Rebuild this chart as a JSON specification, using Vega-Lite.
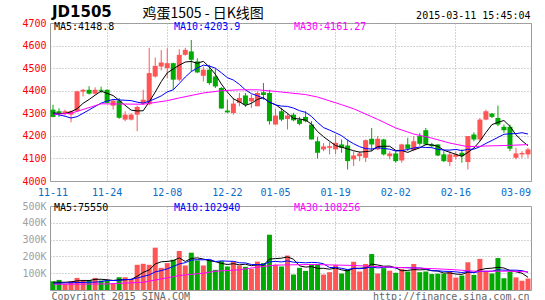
{
"$schema": "https://vega.github.io/schema/vega-lite/v6.json",
"autosize": {"type": "pad"},
"padding": {"left": 21, "top": 4, "right": 0, "bottom": 0},
"background": "white",
"bounds": "flush",
"spacing": 25,
"config": {
 "view": {"stroke": "#999999", "strokeWidth": 1},
 "axis": {"labelFont": "DejaVu Sans Mono", "titleFont": "DejaVu Sans Mono", "titleFontWeight": "normal", "domain": false, "ticks": false, "gridColor": "#AAAAAA", "gridDash": [1, 2], "gridWidth": 1, "labelOverlap": false}
},
"datasets": {
 "k": [
{"d":"2014-11-11","o":4316,"h":4338,"l":4282,"c":4284,"v":52000,"ma5":4302,"ma10":4299,"vma5":46000,"vma10":40000},
{"d":"2014-11-12","o":4309,"h":4322,"l":4284,"c":4301,"v":60000,"ma5":4299,"ma10":4293,"vma5":46000,"vma10":41000},
{"d":"2014-11-13","o":4299,"h":4316,"l":4290,"c":4309,"v":36000,"ma5":4299,"ma10":4287,"vma5":46000,"vma10":42000},
{"d":"2014-11-14","o":4294,"h":4312,"l":4260,"c":4309,"v":52000,"ma5":4307,"ma10":4279,"vma5":48000,"vma10":43000},
{"d":"2014-11-17","o":4309,"h":4400,"l":4305,"c":4397,"v":72000,"ma5":4320,"ma10":4285,"vma5":54400,"vma10":44000},
{"d":"2014-11-18","o":4396,"h":4408,"l":4375,"c":4404,"v":60000,"ma5":4344,"ma10":4300,"vma5":56000,"vma10":45000},
{"d":"2014-11-19","o":4404,"h":4420,"l":4383,"c":4387,"v":60000,"ma5":4361.2,"ma10":4315,"vma5":56000,"vma10":46000},
{"d":"2014-11-20","o":4387,"h":4415,"l":4383,"c":4404,"v":72000,"ma5":4380.2,"ma10":4330,"vma5":63200,"vma10":47000},
{"d":"2014-11-21","o":4404,"h":4418,"l":4390,"c":4400,"v":56000,"ma5":4398.4,"ma10":4345,"vma5":64000,"vma10":50000},
{"d":"2014-11-24","o":4404,"h":4406,"l":4344,"c":4346,"v":56000,"ma5":4388.2,"ma10":4354.1,"vma5":60800,"vma10":57600},
{"d":"2014-11-25","o":4334,"h":4361,"l":4316,"c":4356,"v":40000,"ma5":4378.6,"ma10":4361.3,"vma5":56800,"vma10":56400},
{"d":"2014-11-26","o":4356,"h":4368,"l":4276,"c":4280,"v":76000,"ma5":4357.2,"ma10":4359.2,"vma5":60000,"vma10":58000},
{"d":"2014-11-27","o":4272,"h":4309,"l":4265,"c":4294,"v":76000,"ma5":4335.2,"ma10":4357.7,"vma5":60800,"vma10":62000},
{"d":"2014-11-28","o":4272,"h":4300,"l":4268,"c":4294,"v":66000,"ma5":4314,"ma10":4356.2,"vma5":62800,"vma10":63400},
{"d":"2014-12-01","o":4294,"h":4334,"l":4221,"c":4328,"v":150000,"ma5":4310.4,"ma10":4349.3,"vma5":81600,"vma10":71200},
{"d":"2014-12-02","o":4343,"h":4404,"l":4338,"c":4360,"v":156000,"ma5":4311.2,"ma10":4344.9,"vma5":104800,"vma10":80800},
{"d":"2014-12-03","o":4340,"h":4590,"l":4335,"c":4478,"v":150000,"ma5":4350.8,"ma10":4354,"vma5":119600,"vma10":89800},
{"d":"2014-12-04","o":4463,"h":4547,"l":4458,"c":4510,"v":252000,"ma5":4394,"ma10":4364.6,"vma5":154800,"vma10":107800},
{"d":"2014-12-05","o":4507,"h":4580,"l":4490,"c":4525,"v":132000,"ma5":4440.2,"ma10":4377.1,"vma5":168000,"vma10":115400},
{"d":"2014-12-08","o":4500,"h":4588,"l":4456,"c":4522,"v":160000,"ma5":4479,"ma10":4394.7,"vma5":170000,"vma10":125800},
{"d":"2014-12-09","o":4522,"h":4524,"l":4404,"c":4449,"v":180000,"ma5":4496.8,"ma10":4404,"vma5":174800,"vma10":139800},
{"d":"2014-12-10","o":4449,"h":4584,"l":4441,"c":4559,"v":232000,"ma5":4513,"ma10":4431.9,"vma5":191200,"vma10":155400},
{"d":"2014-12-11","o":4559,"h":4590,"l":4555,"c":4581,"v":146000,"ma5":4527.2,"ma10":4460.6,"vma5":170000,"vma10":162400},
{"d":"2014-12-12","o":4574,"h":4625,"l":4485,"c":4537,"v":222000,"ma5":4529.6,"ma10":4484.9,"vma5":188000,"vma10":178000},
{"d":"2014-12-15","o":4530,"h":4544,"l":4478,"c":4481,"v":176000,"ma5":4521.4,"ma10":4500.2,"vma5":191200,"vma10":180600},
{"d":"2014-12-16","o":4466,"h":4507,"l":4441,"c":4493,"v":146000,"ma5":4530.2,"ma10":4513.5,"vma5":184400,"vma10":179600},
{"d":"2014-12-17","o":4493,"h":4515,"l":4426,"c":4434,"v":180000,"ma5":4505.2,"ma10":4509.1,"vma5":174000,"vma10":182600},
{"d":"2014-12-18","o":4463,"h":4500,"l":4412,"c":4419,"v":120000,"ma5":4472.8,"ma10":4500,"vma5":168800,"vma10":169400},
{"d":"2014-12-19","o":4412,"h":4416,"l":4321,"c":4321,"v":172000,"ma5":4429.6,"ma10":4479.6,"vma5":158800,"vma10":173400},
{"d":"2014-12-22","o":4312,"h":4360,"l":4301,"c":4304,"v":140000,"ma5":4394.2,"ma10":4457.8,"vma5":151600,"vma10":171400},
{"d":"2014-12-23","o":4301,"h":4368,"l":4294,"c":4343,"v":172000,"ma5":4364.2,"ma10":4447.2,"vma5":156800,"vma10":170600},
{"d":"2014-12-24","o":4346,"h":4390,"l":4331,"c":4368,"v":146000,"ma5":4351,"ma10":4428.1,"vma5":150000,"vma10":162000},
{"d":"2014-12-25","o":4379,"h":4390,"l":4328,"c":4338,"v":138000,"ma5":4334.8,"ma10":4403.8,"vma5":153600,"vma10":161200},
{"d":"2014-12-26","o":4353,"h":4383,"l":4324,"c":4368,"v":126000,"ma5":4344.2,"ma10":4386.9,"vma5":144400,"vma10":151600},
{"d":"2014-12-29","o":4331,"h":4397,"l":4331,"c":4390,"v":169000,"ma5":4361.4,"ma10":4377.8,"vma5":150200,"vma10":150900},
{"d":"2014-12-30","o":4393,"h":4434,"l":4360,"c":4381,"v":160000,"ma5":4369,"ma10":4366.6,"vma5":147800,"vma10":152300},
{"d":"2014-12-31","o":4390,"h":4404,"l":4250,"c":4265,"v":329000,"ma5":4348.4,"ma10":4349.7,"vma5":184400,"vma10":167200},
{"d":"2015-01-05","o":4250,"h":4319,"l":4250,"c":4290,"v":150000,"ma5":4338.8,"ma10":4336.8,"vma5":186800,"vma10":170200},
{"d":"2015-01-06","o":4309,"h":4324,"l":4265,"c":4272,"v":140000,"ma5":4319.6,"ma10":4331.9,"vma5":189600,"vma10":167000},
{"d":"2015-01-07","o":4275,"h":4302,"l":4228,"c":4290,"v":205000,"ma5":4299.6,"ma10":4330.5,"vma5":196800,"vma10":173500},
{"d":"2015-01-08","o":4294,"h":4302,"l":4265,"c":4269,"v":92000,"ma5":4277.2,"ma10":4323.1,"vma5":183200,"vma10":165500},
{"d":"2015-01-09","o":4272,"h":4284,"l":4247,"c":4253,"v":132000,"ma5":4274.8,"ma10":4311.6,"vma5":143800,"vma10":164100},
{"d":"2015-01-12","o":4284,"h":4309,"l":4260,"c":4265,"v":114000,"ma5":4269.8,"ma10":4304.3,"vma5":136600,"vma10":161700},
{"d":"2015-01-13","o":4250,"h":4265,"l":4184,"c":4184,"v":152000,"ma5":4252.2,"ma10":4285.9,"vma5":139000,"vma10":164300},
{"d":"2015-01-14","o":4176,"h":4195,"l":4100,"c":4125,"v":155000,"ma5":4219.2,"ma10":4259.4,"vma5":129000,"vma10":162900},
{"d":"2015-01-15","o":4140,"h":4168,"l":4132,"c":4153,"v":92000,"ma5":4196,"ma10":4236.6,"vma5":129000,"vma10":156100},
{"d":"2015-01-16","o":4147,"h":4172,"l":4118,"c":4154,"v":106000,"ma5":4176.2,"ma10":4225.5,"vma5":123800,"vma10":133800},
{"d":"2015-01-19","o":4140,"h":4206,"l":4118,"c":4169,"v":148000,"ma5":4157,"ma10":4213.4,"vma5":130600,"vma10":133600},
{"d":"2015-01-20","o":4162,"h":4184,"l":4125,"c":4147,"v":98000,"ma5":4149.6,"ma10":4200.9,"vma5":119800,"vma10":129400},
{"d":"2015-01-21","o":4157,"h":4184,"l":4051,"c":4088,"v":124000,"ma5":4142.2,"ma10":4180.7,"vma5":113600,"vma10":121300},
{"d":"2015-01-22","o":4096,"h":4132,"l":4066,"c":4113,"v":168000,"ma5":4134.2,"ma10":4165.1,"vma5":128800,"vma10":128900},
{"d":"2015-01-23","o":4110,"h":4132,"l":4088,"c":4122,"v":110000,"ma5":4127.8,"ma10":4152,"vma5":129600,"vma10":126700},
{"d":"2015-01-26","o":4103,"h":4184,"l":4084,"c":4181,"v":155000,"ma5":4130.2,"ma10":4143.6,"vma5":131000,"vma10":130800},
{"d":"2015-01-27","o":4187,"h":4235,"l":4132,"c":4162,"v":214000,"ma5":4133.2,"ma10":4141.4,"vma5":154200,"vma10":137000},
{"d":"2015-01-28","o":4140,"h":4199,"l":4137,"c":4187,"v":98000,"ma5":4153,"ma10":4147.6,"vma5":149000,"vma10":131300},
{"d":"2015-01-29","o":4184,"h":4187,"l":4113,"c":4118,"v":130000,"ma5":4154,"ma10":4144.1,"vma5":141400,"vma10":135100},
{"d":"2015-01-30","o":4110,"h":4132,"l":4096,"c":4122,"v":115000,"ma5":4154,"ma10":4140.9,"vma5":142400,"vma10":136000},
{"d":"2015-02-02","o":4122,"h":4132,"l":4081,"c":4088,"v":102000,"ma5":4135.4,"ma10":4132.8,"vma5":131800,"vma10":131400},
{"d":"2015-02-03","o":4091,"h":4165,"l":4081,"c":4162,"v":126000,"ma5":4135.4,"ma10":4134.3,"vma5":114200,"vma10":134200},
{"d":"2015-02-04","o":4162,"h":4191,"l":4132,"c":4143,"v":110000,"ma5":4126.6,"ma10":4139.8,"vma5":116600,"vma10":132800},
{"d":"2015-02-05","o":4137,"h":4199,"l":4132,"c":4176,"v":155000,"ma5":4138.2,"ma10":4146.1,"vma5":121600,"vma10":131500},
{"d":"2015-02-06","o":4199,"h":4213,"l":4157,"c":4165,"v":106000,"ma5":4146.8,"ma10":4150.4,"vma5":119800,"vma10":131100},
{"d":"2015-02-09","o":4225,"h":4235,"l":4157,"c":4162,"v":110000,"ma5":4161.6,"ma10":4148.5,"vma5":121400,"vma10":126600},
{"d":"2015-02-10","o":4162,"h":4169,"l":4147,"c":4154,"v":95000,"ma5":4160,"ma10":4147.7,"vma5":115200,"vma10":114700},
{"d":"2015-02-11","o":4162,"h":4162,"l":4110,"c":4113,"v":97000,"ma5":4154,"ma10":4140.3,"vma5":112600,"vma10":114600},
{"d":"2015-02-12","o":4118,"h":4132,"l":4084,"c":4088,"v":97000,"ma5":4136.4,"ma10":4137.3,"vma5":101000,"vma10":111300},
{"d":"2015-02-13","o":4084,"h":4132,"l":4066,"c":4118,"v":110000,"ma5":4127,"ma10":4136.9,"vma5":101800,"vma10":110800},
{"d":"2015-02-16","o":4107,"h":4132,"l":4096,"c":4118,"v":74000,"ma5":4118.2,"ma10":4139.9,"vma5":94600,"vma10":108000},
{"d":"2015-02-17","o":4125,"h":4140,"l":4081,"c":4110,"v":86000,"ma5":4109.4,"ma10":4134.7,"vma5":92800,"vma10":104000},
{"d":"2015-02-25","o":4084,"h":4199,"l":4051,"c":4199,"v":165000,"ma5":4126.6,"ma10":4140.3,"vma5":106400,"vma10":109500},
{"d":"2015-02-26","o":4206,"h":4216,"l":4176,"c":4184,"v":90000,"ma5":4145.8,"ma10":4141.1,"vma5":105000,"vma10":103000},
{"d":"2015-02-27","o":4184,"h":4279,"l":4176,"c":4272,"v":185000,"ma5":4176.6,"ma10":4151.8,"vma5":120000,"vma10":110900},
{"d":"2015-03-02","o":4272,"h":4316,"l":4269,"c":4309,"v":112000,"ma5":4214.8,"ma10":4166.5,"vma5":127600,"vma10":111100},
{"d":"2015-03-03","o":4299,"h":4301,"l":4279,"c":4284,"v":98000,"ma5":4249.6,"ma10":4179.5,"vma5":130000,"vma10":111400},
{"d":"2015-03-04","o":4279,"h":4334,"l":4243,"c":4250,"v":190000,"ma5":4259.8,"ma10":4193.2,"vma5":135000,"vma10":120700},
{"d":"2015-03-05","o":4240,"h":4250,"l":4213,"c":4225,"v":70000,"ma5":4268,"ma10":4206.9,"vma5":131000,"vma10":118000},
{"d":"2015-03-06","o":4240,"h":4250,"l":4132,"c":4143,"v":110000,"ma5":4242.2,"ma10":4209.4,"vma5":116000,"vma10":118000},
{"d":"2015-03-09","o":4103,"h":4147,"l":4096,"c":4122,"v":75000,"ma5":4204.8,"ma10":4209.8,"vma5":108600,"vma10":118100},
{"d":"2015-03-10","o":4118,"h":4132,"l":4103,"c":4124,"v":55000,"ma5":4178.4,"ma10":4214,"vma5":100000,"vma10":115000},
{"d":"2015-03-11","o":4118,"h":4147,"l":4103,"c":4140,"v":68000,"ma5":4156.4,"ma10":4208.1,"vma5":75600,"vma10":105300}
 ],
 "m30": [
{"d":"2014-11-11","ma30":4295},{"d":"2014-11-14","ma30":4300},{"d":"2014-11-21","ma30":4342},{"d":"2014-12-02","ma30":4340},
{"d":"2014-12-08","ma30":4356},{"d":"2014-12-10","ma30":4368},{"d":"2014-12-16","ma30":4390},{"d":"2014-12-19","ma30":4400},
{"d":"2014-12-24","ma30":4404},{"d":"2014-12-29","ma30":4404},{"d":"2015-01-05","ma30":4397},{"d":"2015-01-12","ma30":4383},
{"d":"2015-01-14","ma30":4372},{"d":"2015-01-16","ma30":4355},{"d":"2015-01-20","ma30":4338},{"d":"2015-01-22","ma30":4320},
{"d":"2015-01-28","ma30":4273},{"d":"2015-02-02","ma30":4235},{"d":"2015-02-05","ma30":4208},{"d":"2015-02-10","ma30":4190},
{"d":"2015-02-13","ma30":4168},{"d":"2015-02-25","ma30":4152},{"d":"2015-03-02","ma30":4155},{"d":"2015-03-06","ma30":4158},
{"d":"2015-03-11","ma30":4161.27}
 ],
 "v30": [
{"d":"2014-11-11","vma30":34000},{"d":"2014-11-24","vma30":36000},{"d":"2014-12-02","vma30":46000},{"d":"2014-12-05","vma30":66000},
{"d":"2014-12-10","vma30":86000},{"d":"2014-12-16","vma30":100000},{"d":"2014-12-18","vma30":112000},{"d":"2014-12-24","vma30":120000},
{"d":"2014-12-29","vma30":136000},{"d":"2015-01-05","vma30":148000},{"d":"2015-01-13","vma30":152000},{"d":"2015-01-22","vma30":146000},
{"d":"2015-01-30","vma30":136000},{"d":"2015-02-11","vma30":126000},{"d":"2015-02-16","vma30":120000},{"d":"2015-02-26","vma30":112000},
{"d":"2015-03-06","vma30":112000},{"d":"2015-03-11","vma30":108256}
 ]
},
"resolve": {"scale": {"color": "independent"}, "legend": {"color": "independent"}},
"vconcat": [
 {
  "width": 481, "height": 158,
  "title": {"text": "JD1505", "anchor": "start", "frame": "group", "font": "DejaVu Sans", "fontSize": 15, "fontWeight": "bold", "color": "#000000", "baseline": "alphabetic", "offset": 0, "dx": 2, "dy": 26},
  "data": {"name": "k"},
  "encoding": {
   "x": {"field": "d", "type": "ordinal", "scale": {"type": "band", "paddingInner": 0, "paddingOuter": 0},
     "axis": {"orient": "bottom", "values": ["2014-11-11","2014-11-24","2014-12-08","2014-12-22","2015-01-05","2015-01-19","2015-02-02","2015-02-16","2015-03-09"],
       "labelExpr": "substring(datum.value, 5)", "labelColor": "#0A6BC8", "labelFontSize": 10, "labelPadding": 6, "labelAngle": 0, "labelOverlap": false,
       "bandPosition": 0.5, "grid": true,
       "gridOpacity": {"condition": {"test": "datum.value == '2014-11-11' || datum.value == '2015-03-09'", "value": 0}, "value": 1},
       "title": "鸡蛋1505 - 日K线图", "titleX": 92, "titleY": -164, "titleAlign": "left", "titleBaseline": "alphabetic", "titleFont": "Noto Sans CJK SC", "titleFontSize": 14, "titleColor": "#000000"}}
  },
  "layer": [
   {"mark": {"type": "rule", "strokeWidth": 1},
    "encoding": {
     "y": {"field": "l", "type": "quantitative", "scale": {"domain": [4000, 4700], "nice": false, "zero": false},
       "axis": {"values": [4000,4100,4200,4300,4400,4500,4600,4700], "tickCount": 20, "format": "d", "labelOverlap": false, "labelColor": "#FF0000", "labelFontSize": 10, "labelPadding": 4, "grid": true,
         "title": "2015-03-11 15:45:04", "titleAngle": 0, "titleX": 480, "titleY": -5, "titleAlign": "right", "titleBaseline": "alphabetic", "titleFontSize": 10, "titleColor": "#000000"}},
     "y2": {"field": "h"},
     "color": {"condition": {"test": "datum.c >= datum.o", "value": "#FF5555"}, "value": "#00AA00"}}},
   {"mark": {"type": "bar", "width": 5},
    "encoding": {
     "y": {"field": "o", "type": "quantitative"},
     "y2": {"field": "c"},
     "color": {"condition": {"test": "datum.c >= datum.o", "value": "#FF5555"}, "value": "#00AA00"}}},
   {"transform": [{"fold": ["ma5", "ma10"], "as": ["key", "val"]}],
    "mark": {"type": "line", "strokeWidth": 1},
    "encoding": {
     "y": {"field": "val", "type": "quantitative"},
     "color": {"field": "key", "type": "nominal", "scale": {"domain": ["ma5", "ma10", "ma30"], "range": ["#000000", "#0000FF", "#FF00FF"]},
       "legend": {"orient": "none", "legendX": -6, "legendY": -1, "direction": "horizontal", "title": null, "symbolType": "square", "symbolSize": 1, "symbolOpacity": 0, "symbolStrokeWidth": 0, "labelOffset": 0,
         "labelFont": "DejaVu Sans Mono", "labelFontSize": 10, "labelLimit": 300, "gridAlign": "all", "columnPadding": 37, "padding": 0,
         "labelExpr": "datum.value == 'ma5' ? 'MA5:4148.8' : datum.value == 'ma10' ? 'MA10:4203.9' : 'MA30:4161.27'",
         "encode": {"labels": {"update": {"fill": {"signal": "datum.value == 'ma5' ? '#000000' : datum.value == 'ma10' ? '#0000FF' : '#FF00FF'"}}}}}}}},
   {"data": {"name": "m30"},
    "transform": [{"fold": ["ma30"], "as": ["key", "val"]}],
    "mark": {"type": "line", "strokeWidth": 1},
    "encoding": {
     "y": {"field": "val", "type": "quantitative"},
     "color": {"field": "key", "type": "nominal"}}}
  ]
 },
 {
  "width": 481, "height": 84,
  "data": {"name": "k"},
  "encoding": {
   "x": {"field": "d", "type": "ordinal", "scale": {"type": "band", "paddingInner": 0, "paddingOuter": 0},
     "axis": {"orient": "bottom", "labels": false, "bandPosition": 0.5, "grid": true,
       "values": ["2014-11-11","2014-11-24","2014-12-08","2014-12-22","2015-01-05","2015-01-19","2015-02-02","2015-02-16","2015-03-09"],
       "gridOpacity": {"condition": {"test": "datum.value == '2014-11-11' || datum.value == '2015-03-09'", "value": 0}, "value": 1},
       "title": "http://finance.sina.com.cn", "titleX": 479, "titleY": 9, "titleAlign": "right", "titleBaseline": "alphabetic", "titleFontSize": 10, "titleColor": "#666666"}}
  },
  "layer": [
   {"mark": {"type": "bar", "width": 5},
    "encoding": {
     "y": {"field": "v", "type": "quantitative", "scale": {"domain": [0, 500000], "nice": false},
       "axis": {"values": [100000,200000,300000,400000,500000], "tickCount": 20, "labelOverlap": false, "labelExpr": "(datum.value / 1000) + 'K'", "labelColor": "#A0A0A0", "labelFontSize": 10, "labelPadding": 4, "grid": true,
         "title": "Copyright 2015 SINA.COM", "titleAngle": 0, "titleX": 1, "titleY": 93, "titleAlign": "left", "titleBaseline": "alphabetic", "titleFontSize": 10, "titleColor": "#666666"}},
     "color": {"condition": {"test": "datum.c >= datum.o", "value": "#FF5555"}, "value": "#00AA00"}}},
   {"transform": [{"fold": ["vma5", "vma10"], "as": ["key", "val"]}],
    "mark": {"type": "line", "strokeWidth": 1},
    "encoding": {
     "y": {"field": "val", "type": "quantitative"},
     "color": {"field": "key", "type": "nominal", "scale": {"domain": ["vma5", "vma10", "vma30"], "range": ["#000000", "#0000FF", "#FF00FF"]},
       "legend": {"orient": "none", "legendX": -6, "legendY": -3, "direction": "horizontal", "title": null, "symbolType": "square", "symbolSize": 1, "symbolOpacity": 0, "symbolStrokeWidth": 0, "labelOffset": 0,
         "labelFont": "DejaVu Sans Mono", "labelFontSize": 10, "labelLimit": 300, "gridAlign": "all", "columnPadding": 43, "padding": 0,
         "labelExpr": "datum.value == 'vma5' ? 'MA5:75550' : datum.value == 'vma10' ? 'MA10:102940' : 'MA30:108256'",
         "encode": {"labels": {"update": {"fill": {"signal": "datum.value == 'vma5' ? '#000000' : datum.value == 'vma10' ? '#0000FF' : '#FF00FF'"}}}}}}}},
   {"data": {"name": "v30"},
    "transform": [{"fold": ["vma30"], "as": ["key", "val"]}],
    "mark": {"type": "line", "strokeWidth": 1},
    "encoding": {
     "y": {"field": "val", "type": "quantitative"},
     "color": {"field": "key", "type": "nominal"}}}
  ]
 }
]
}
